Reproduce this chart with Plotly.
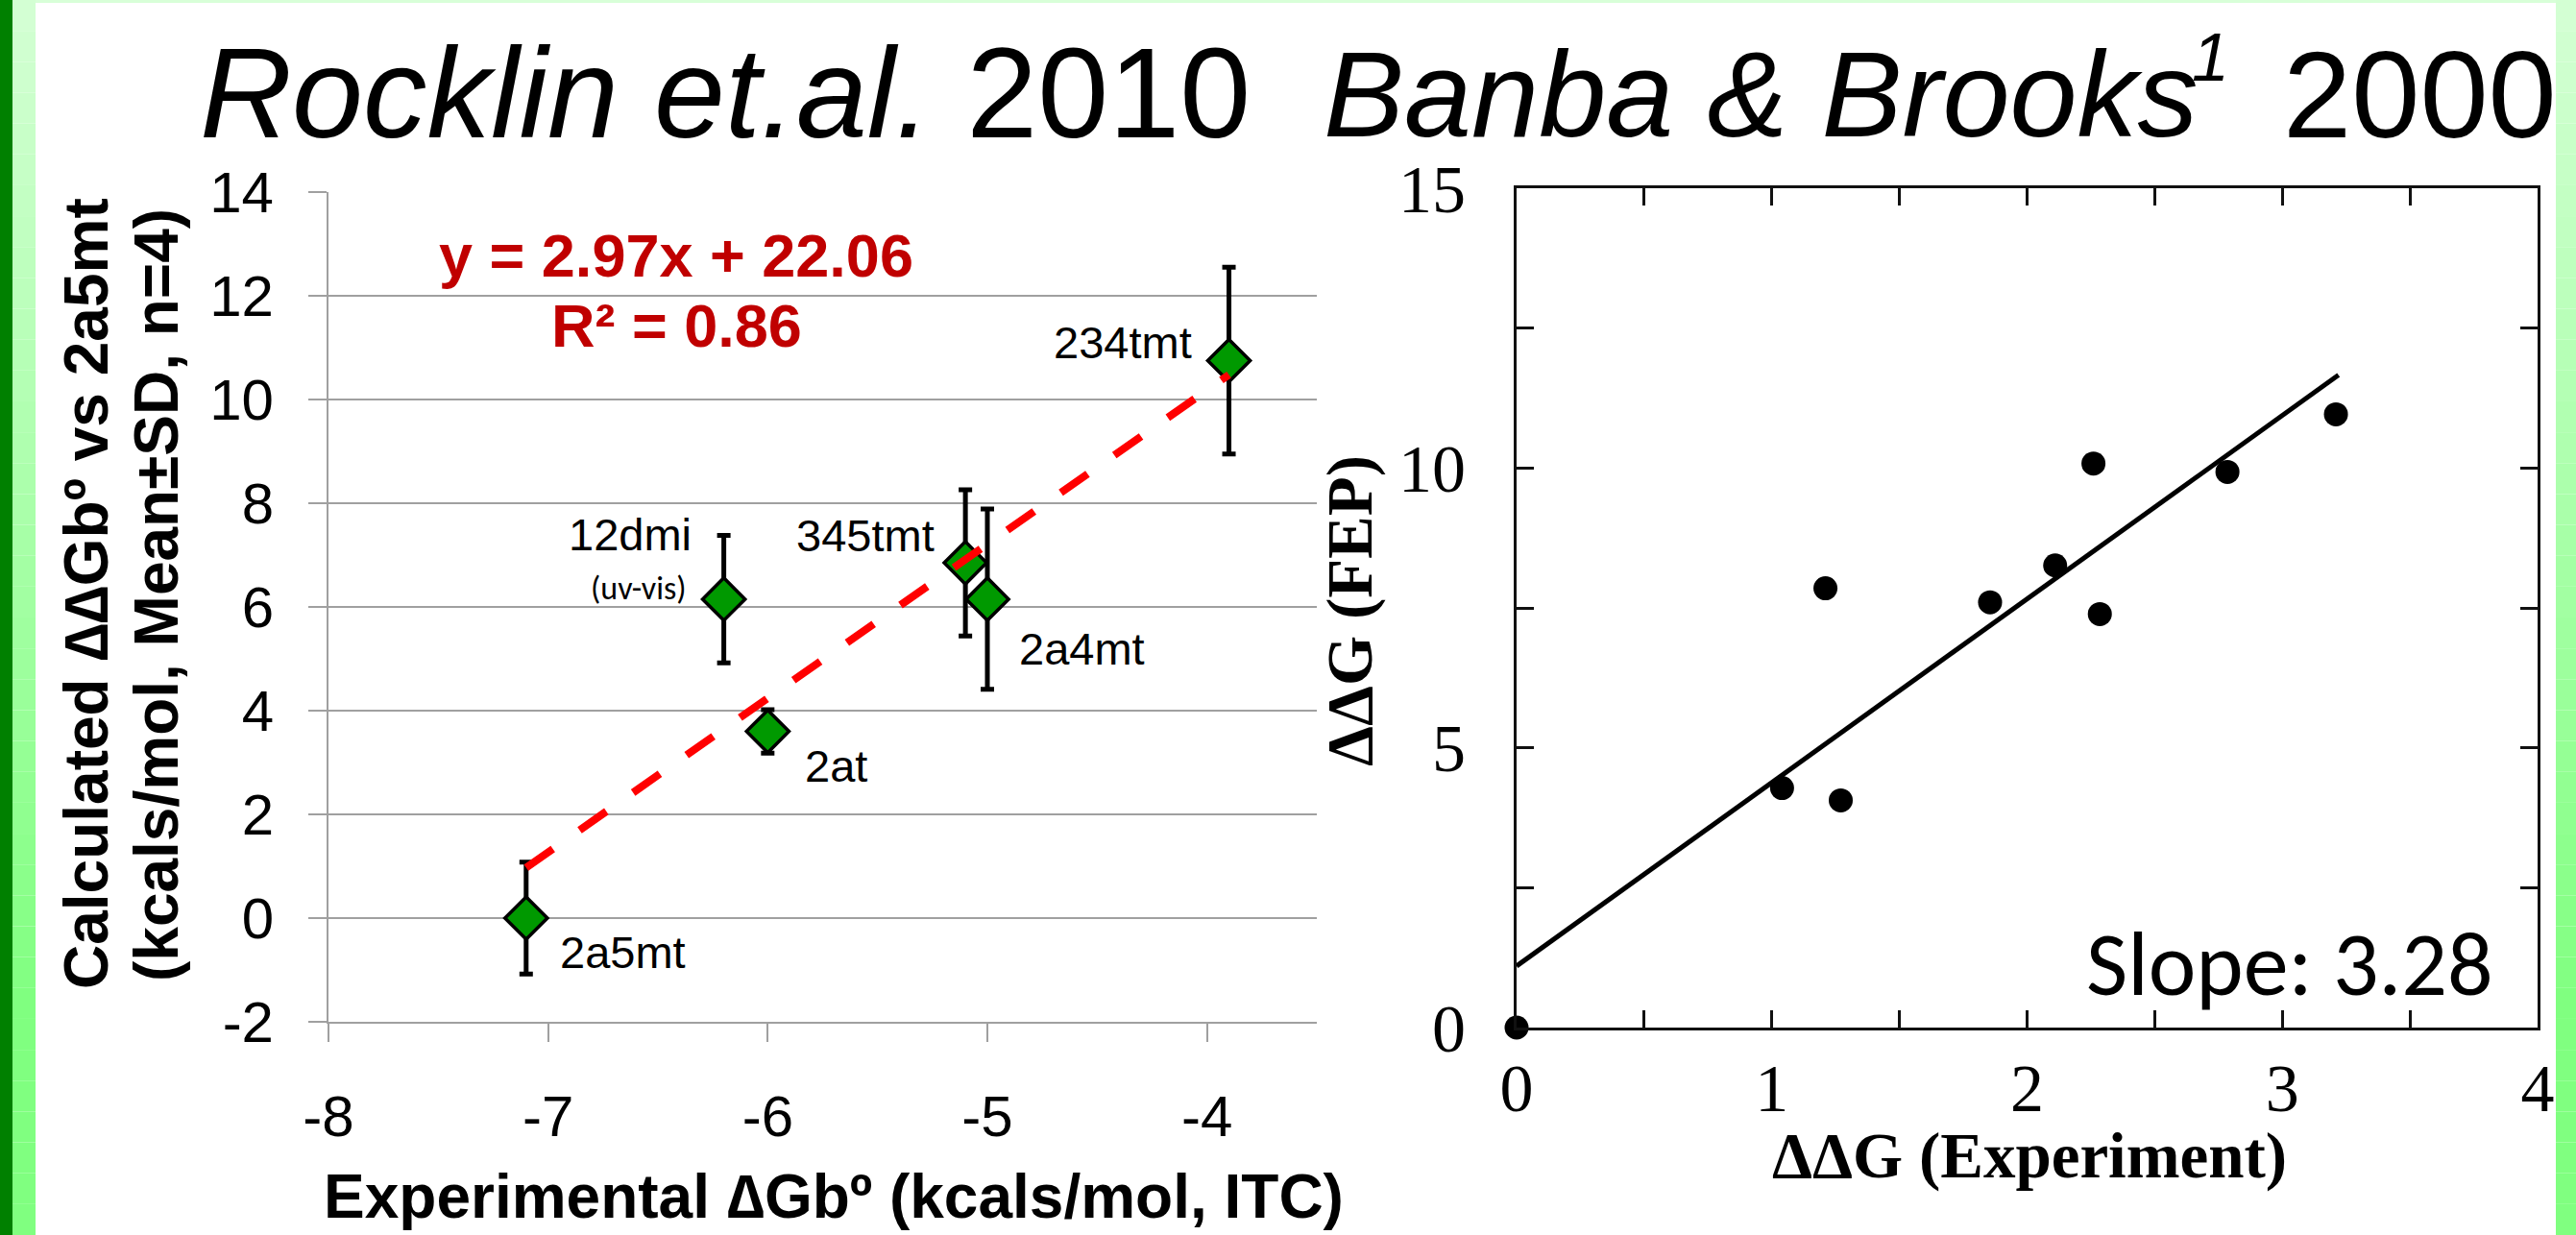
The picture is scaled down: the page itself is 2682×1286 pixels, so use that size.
import plotly.graph_objects as go

W, H = 2682, 1286

# ---------------- data: Rocklin et.al. 2010 (left) ----------------
compounds = ["2a5mt", "12dmi", "2at", "345tmt", "2a4mt", "234tmt"]
exp_dG = [-7.1, -6.2, -6.0, -5.1, -5.0, -3.9]
calc_ddG = [0.0, 6.15, 3.6, 6.85, 6.15, 10.75]
calc_sd = [1.08, 1.23, 0.42, 1.41, 1.74, 1.80]
trend_slope = 2.97
trend_intercept = 22.06
r_squared = 0.86
trend_x = [-7.1, -3.9]
left_x_ticks = [-8, -7, -6, -5, -4]
left_x_ticklabels = ["-8", "-7", "-6", "-5", "-4"]
left_y_ticks = [-2, 0, 2, 4, 6, 8, 10, 12, 14]
left_y_ticklabels = ["-2", "0", "2", "4", "6", "8", "10", "12", "14"]

# ---------------- data: Banba & Brooks 2000 (right) ----------------
bb_exp = [0.0, 1.04, 1.21, 1.27, 1.855, 2.11, 2.26, 2.285, 2.785, 3.21]
bb_fep = [0.0, 4.28, 7.85, 4.06, 7.60, 8.26, 10.08, 7.39, 9.93, 10.96]
bb_slope = 3.28
bb_intercept = 1.1
bb_fit_x = [0.0, 3.22]
right_x_ticks = [0, 0.5, 1, 1.5, 2, 2.5, 3, 3.5, 4]
right_x_ticklabels = ["0", "", "1", "", "2", "", "3", "", "4"]
right_y_ticks = [0, 2.5, 5, 7.5, 10, 12.5, 15]
right_y_ticklabels = ["0", "", "5", "", "10", "", "15"]


def px(x):
    return x / W


def py(y):
    return 1 - y / H


SANS = "Liberation Sans, Arial, sans-serif"
SERIF = "Liberation Serif, Times New Roman, serif"
CAL = "Carlito, Lato, sans-serif"
GRID = "#a0a0a0"

fig = go.Figure()

# left: data points with error bars
fig.add_trace(go.Scatter(
    x=exp_dG, y=calc_ddG, mode="markers", xaxis="x", yaxis="y",
    marker=dict(symbol="diamond", size=34, color="#009900",
                line=dict(color="black", width=3.5)),
    error_y=dict(type="data", array=calc_sd, visible=True, color="black",
                 thickness=5, width=7),
    cliponaxis=False, showlegend=False,
))
# left: trend line
fig.add_trace(go.Scatter(
    x=trend_x, y=[trend_slope * v + trend_intercept for v in trend_x],
    mode="lines", xaxis="x", yaxis="y",
    line=dict(color="#ff0000", width=8, dash="34px,34px"),
    showlegend=False,
))
# right: fit line
fig.add_trace(go.Scatter(
    x=bb_fit_x, y=[bb_slope * v + bb_intercept for v in bb_fit_x],
    mode="lines", xaxis="x2", yaxis="y2",
    line=dict(color="black", width=5), showlegend=False,
))
# right: points
fig.add_trace(go.Scatter(
    x=bb_exp, y=bb_fep, mode="markers", xaxis="x2", yaxis="y2",
    marker=dict(color="black", size=25), cliponaxis=False, showlegend=False,
))

annotations = []

# point labels (offsets in px relative to each point)
label_style = {
    "2a5mt": dict(xanchor="left", xshift=33, yshift=-35),
    "12dmi": dict(xanchor="right", xshift=-32, yshift=67),
    "2at": dict(xanchor="left", xshift=37, yshift=-36),
    "345tmt": dict(xanchor="right", xshift=-30, yshift=29),
    "2a4mt": dict(xanchor="left", xshift=31, yshift=-52),
    "234tmt": dict(xanchor="right", xshift=-37, yshift=19),
}
for name, xv, yv in zip(compounds, exp_dG, calc_ddG):
    st = label_style[name]
    annotations.append(dict(
        x=xv, y=yv, xref="x", yref="y", text=name, showarrow=False,
        xanchor=st["xanchor"], yanchor="middle", xshift=st["xshift"], yshift=st["yshift"],
        font=dict(family=SANS, size=47, color="black"),
    ))
i12 = compounds.index("12dmi")
annotations.append(dict(
    x=exp_dG[i12], y=calc_ddG[i12], xref="x", yref="y", text="(uv-vis)", showarrow=False,
    xanchor="right", yanchor="middle", xshift=-37, yshift=11,
    font=dict(family=CAL, size=34, color="black"),
))

# equation
annotations.append(dict(
    x=px(704), y=py(266), xref="paper", yref="paper", showarrow=False,
    text=f"y = {trend_slope:.2f}x + {trend_intercept:.2f}",
    xanchor="center", yanchor="middle",
    font=dict(family=SANS, size=63, color="#c00000", weight="bold"),
))
annotations.append(dict(
    x=px(704), y=py(339), xref="paper", yref="paper", showarrow=False,
    text=f"R² = {r_squared:.2f}",
    xanchor="center", yanchor="middle",
    font=dict(family=SANS, size=63, color="#c00000", weight="bold"),
))

# titles
annotations.append(dict(
    x=px(206), y=py(97), xref="paper", yref="paper", showarrow=False,
    text="<i>Rocklin et.al.</i> 2010", xanchor="left", yanchor="middle",
    font=dict(family=SANS, size=133, color="black"),
))
annotations.append(dict(
    x=px(1376), y=py(99), xref="paper", yref="paper", showarrow=False,
    text="<i>Banba &amp; Brooks</i>", xanchor="left", yanchor="middle",
    font=dict(family=SANS, size=126, color="black"),
))
annotations.append(dict(
    x=px(2280), y=py(60), xref="paper", yref="paper", showarrow=False,
    text="<i>1</i>", xanchor="left", yanchor="middle",
    font=dict(family=SANS, size=70, color="black"),
))
annotations.append(dict(
    x=px(2664), y=py(99), xref="paper", yref="paper", showarrow=False,
    text="2000", xanchor="right", yanchor="middle",
    font=dict(family=SANS, size=128, color="black"),
))

# left axis titles
annotations.append(dict(
    x=px(868), y=py(1246), xref="paper", yref="paper", showarrow=False,
    text="Experimental ∆Gbº (kcals/mol, ITC)", xanchor="center", yanchor="middle",
    font=dict(family=SANS, size=64, color="black", weight="bold"),
))
annotations.append(dict(
    x=px(90), y=py(618), xref="paper", yref="paper", showarrow=False,
    text="Calculated ∆∆Gbº vs 2a5mt", textangle=-90, xanchor="center", yanchor="middle",
    font=dict(family=SANS, size=64, color="black", weight="bold"),
))
annotations.append(dict(
    x=px(163), y=py(620), xref="paper", yref="paper", showarrow=False,
    text="(kcals/mol, Mean±SD, n=4)", textangle=-90, xanchor="center", yanchor="middle",
    font=dict(family=SANS, size=64, color="black", weight="bold"),
))

# right axis titles
annotations.append(dict(
    x=px(2113), y=py(1203), xref="paper", yref="paper", showarrow=False,
    text="ΔΔG (Experiment)", xanchor="center", yanchor="middle",
    font=dict(family=SERIF, size=67, color="black", weight="bold"),
))
annotations.append(dict(
    x=px(1405), y=py(636), xref="paper", yref="paper", showarrow=False,
    text="ΔΔG (FEP)", textangle=-90, xanchor="center", yanchor="middle",
    font=dict(family=SERIF, size=67, color="black", weight="bold"),
))
annotations.append(dict(
    x=px(2384), y=py(1003), xref="paper", yref="paper", showarrow=False,
    text=f"Slope: {bb_slope:.2f}", xanchor="center", yanchor="middle",
    font=dict(family=CAL, size=94, color="black"),
))

# decorative slide border (green)
shapes = []
shapes.append(dict(type="rect", xref="paper", yref="paper", x0=0, x1=px(13), y0=0, y1=1,
                   fillcolor="#008000", line=dict(width=0), layer="above"))
shapes.append(dict(type="rect", xref="paper", yref="paper", x0=px(37), x1=px(2661), y0=py(3), y1=1,
                   fillcolor="#d8ffd8", line=dict(width=0), layer="above"))
nseg = 40
top_c = (212, 255, 212)
bot_c = (128, 255, 128)
for k in range(nseg):
    y0p = k * H / nseg
    y1p = (k + 1) * H / nseg
    t = min(1.0, ((y0p + y1p) / 2) / 1050.0)
    c = tuple(int(round(top_c[j] + (bot_c[j] - top_c[j]) * t)) for j in range(3))
    col = "rgb(%d,%d,%d)" % c
    for (xa, xb) in [(13, 37), (2661, 2682)]:
        shapes.append(dict(type="rect", xref="paper", yref="paper",
                           x0=px(xa), x1=px(xb), y0=py(y1p) if k < nseg - 1 else 0, y1=py(y0p),
                           fillcolor=col, line=dict(width=0), layer="above"))

fig.update_layout(
    width=W, height=H,
    margin=dict(l=0, r=0, t=0, b=0, pad=0, autoexpand=False),
    paper_bgcolor="white", plot_bgcolor="white",
    showlegend=False,
    xaxis=dict(
        domain=[px(342), px(1371)], range=[-8, -3.5], anchor="y", automargin=False,
        tickmode="array", tickvals=left_x_ticks, ticktext=left_x_ticklabels,
        ticks="outside", ticklen=19, tickwidth=2, tickcolor=GRID,
        showline=True, linecolor=GRID, linewidth=2,
        showgrid=False, zeroline=False, ticklabelstandoff=26,
        tickfont=dict(family=SANS, size=60, color="black"),
    ),
    yaxis=dict(
        domain=[py(1064), py(200)], range=[-2, 14], anchor="x", automargin=False,
        tickmode="array", tickvals=left_y_ticks, ticktext=left_y_ticklabels,
        ticks="outside", ticklen=19, tickwidth=2, tickcolor=GRID,
        showline=True, linecolor=GRID, linewidth=2,
        showgrid=True, gridcolor=GRID, gridwidth=2, zeroline=False,
        ticklabelstandoff=24,
        tickfont=dict(family=SANS, size=60, color="black"),
    ),
    xaxis2=dict(
        domain=[px(1579), px(2642)], range=[0, 4], anchor="y2", automargin=False,
        tickmode="array", tickvals=right_x_ticks, ticktext=right_x_ticklabels,
        ticks="inside", ticklen=18, tickwidth=3, tickcolor="#111111",
        showline=True, linecolor="#111111", linewidth=3, mirror="ticks",
        showgrid=False, zeroline=False, ticklabelstandoff=0,
        tickfont=dict(family=SERIF, size=70, color="black"),
    ),
    yaxis2=dict(
        domain=[py(1070), py(196)], range=[0, 15], anchor="x2", automargin=False,
        tickmode="array", tickvals=right_y_ticks, ticktext=right_y_ticklabels,
        ticks="inside", ticklen=18, tickwidth=3, tickcolor="#111111",
        showline=True, linecolor="#111111", linewidth=3, mirror="ticks",
        showgrid=False, zeroline=False, ticklabelstandoff=36,
        tickfont=dict(family=SERIF, size=70, color="black"),
    ),
    annotations=annotations,
    shapes=shapes,
)

fig.write_html(
    "out.html",
    config={"displayModeBar": False},
    post_script="document.body.style.margin='0';document.body.style.padding='0';"
                "document.body.style.overflow='hidden';",
)
